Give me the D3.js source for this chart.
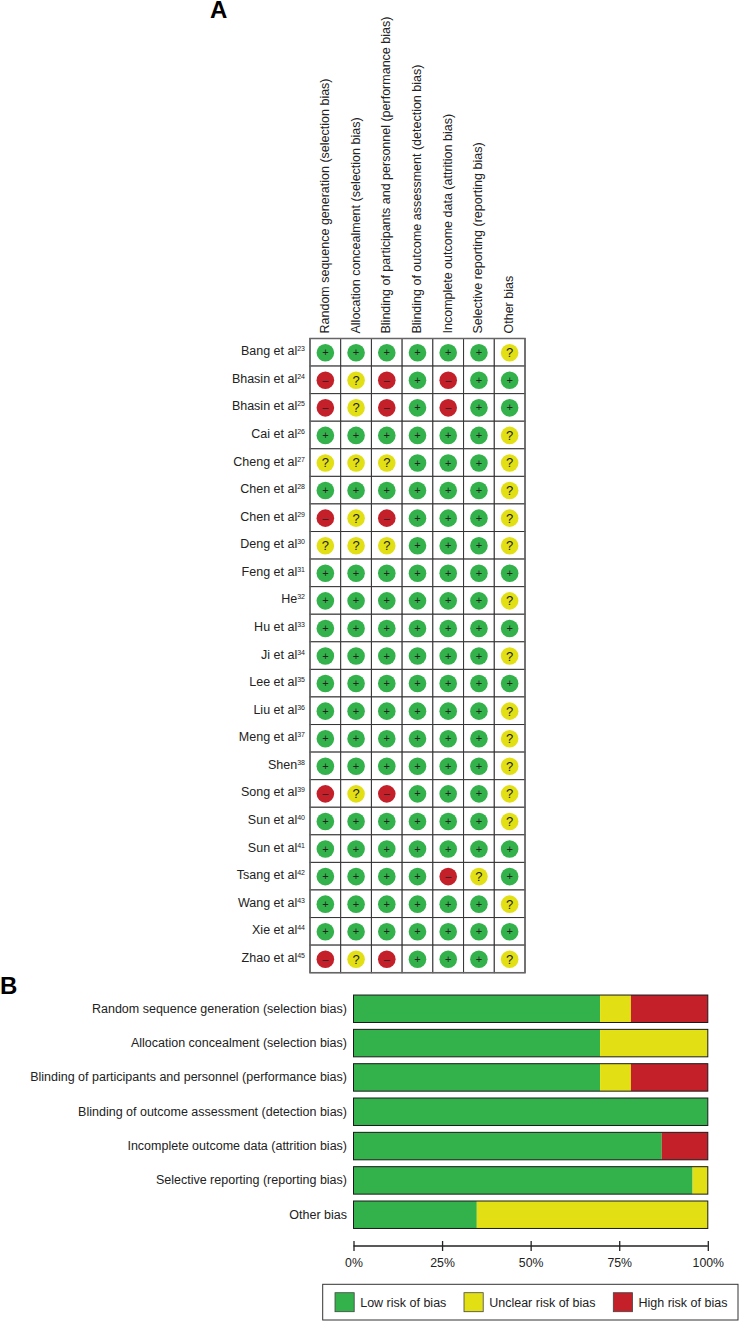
<!DOCTYPE html>
<html>
<head>
<meta charset="utf-8">
<script src="https://cdnjs.cloudflare.com/ajax/libs/d3/7.8.5/d3.min.js"></script>
<style>
  html, body { margin: 0; padding: 0; background: #fff; }
  svg { display: block; }
  text { font-family: 'Liberation Sans', Arial, sans-serif; fill: #222; }
</style>
</head>
<body>
<div id="chart"></div>
<script>
const domains = [
  'Random sequence generation (selection bias)',
  'Allocation concealment (selection bias)',
  'Blinding of participants and personnel (performance bias)',
  'Blinding of outcome assessment (detection bias)',
  'Incomplete outcome data (attrition bias)',
  'Selective reporting (reporting bias)',
  'Other bias',
];
const studies = ['Bang et al', 'Bhasin et al', 'Bhasin et al', 'Cai et al', 'Cheng et al', 'Chen et al',
  'Chen et al', 'Deng et al', 'Feng et al', 'He', 'Hu et al', 'Ji et al', 'Lee et al', 'Liu et al',
  'Meng et al', 'Shen', 'Song et al', 'Sun et al', 'Sun et al', 'Tsang et al', 'Wang et al', 'Xie et al', 'Zhao et al'];
const refs = [23, 24, 25, 26, 27, 28, 29, 30, 31, 32, 33, 34, 35, 36, 37, 38, 39, 40, 41, 42, 43, 44, 45];
// one string per study, one char per domain
const judgements = [
  '++++++?', '-?-+-++', '-?-+-++', '++++++?', '???+++?', '++++++?', '-?-+++?', '???+++?',
  '+++++++', '++++++?', '+++++++', '++++++?', '+++++++', '++++++?', '++++++?', '++++++?',
  '-?-+++?', '++++++?', '+++++++', '++++-?+', '++++++?', '+++++++', '-?-+++?',
];

const lowRisk = [69.6, 69.6, 69.6, 100, 87, 95.7, 34.8];
const unclearRisk = [8.7, 30.4, 8.7, 0, 0, 4.3, 65.2];
const highRisk = [21.7, 0, 21.7, 0, 13, 0, 0];
const percentTicks = [0, 25, 50, 75, 100];
const riskLabels = ['Low risk of bias', 'Unclear risk of bias', 'High risk of bias'];

const green = '#33b14b';
const yellow = '#e2e014';
const red = '#c4202a';
const symbolColor = { '+': green, '?': yellow, '-': red };
const symbolText = { '+': '+', '?': '?', '-': '\u2013' };
const labelSize = 12.5;

const svg = d3.select('#chart').append('svg')
  .attr('width', 739)
  .attr('height', 1321);

// panel letters
svg.append('text').attr('x', 210).attr('y', 18)
  .attr('font-size', 24).attr('font-weight', 'bold').style('fill', '#000').text('A');
svg.append('text').attr('x', 0).attr('y', 994)
  .attr('font-size', 24).attr('font-weight', 'bold').style('fill', '#000').text('B');

// panel A
const x = d3.scaleBand().domain(d3.range(domains.length)).range([310, 525]);
const y = d3.scaleBand().domain(d3.range(studies.length)).range([338.5, 972.7]);

const gridA = svg.append('g');
gridA.selectAll('rect.cell')
  .data(d3.cross(d3.range(studies.length), d3.range(domains.length)))
  .join('rect')
  .attr('class', 'cell')
  .attr('x', (d) => x(d[1]))
  .attr('y', (d) => y(d[0]))
  .attr('width', x.bandwidth())
  .attr('height', y.bandwidth())
  .attr('fill', '#fff')
  .attr('stroke', '#333')
  .attr('stroke-width', 1);
gridA.append('rect')
  .attr('x', 310).attr('y', 338.5)
  .attr('width', x.range()[1] - 310)
  .attr('height', y.range()[1] - 338.5)
  .attr('fill', 'none')
  .attr('stroke', '#666')
  .attr('stroke-width', 1.5);

svg.selectAll('text.domain-head')
  .data(domains)
  .join('text')
  .attr('class', 'domain-head')
  .attr('font-size', labelSize)
  .attr('transform', (d, i) => `translate(${x(i) + x.bandwidth() / 2 + 3.5},333.5) rotate(-90)`)
  .text((d) => d);

const studyLabels = svg.selectAll('text.study')
  .data(studies)
  .join('text')
  .attr('class', 'study')
  .attr('x', 305)
  .attr('y', (d, i) => y(i) + y.bandwidth() / 2 + 3)
  .attr('text-anchor', 'end')
  .attr('font-size', labelSize);
studyLabels.append('tspan').text((d) => d);
studyLabels.append('tspan')
  .attr('font-size', 7)
  .attr('dy', -4)
  .text((d, i) => refs[i]);

const cells = svg.append('g').selectAll('g')
  .data(judgements.flatMap((row, r) => row.split('').map((j, c) => ({ r, c, j }))))
  .join('g')
  .attr('transform', (d) => `translate(${x(d.c) + x.bandwidth() / 2},${y(d.r) + y.bandwidth() / 2 + 0.4})`);
cells.append('circle')
  .attr('r', 8.8)
  .attr('fill', (d) => symbolColor[d.j]);
cells.append('text')
  .attr('text-anchor', 'middle')
  .attr('y', (d) => (d.j === '?' ? 4.5 : 3.6))
  .attr('font-size', (d) => (d.j === '?' ? 13 : 11))
  .text((d) => symbolText[d.j]);

// panel B
const xPct = d3.scaleLinear().domain([0, 100]).range([353.5, 707.8]);
const yBar = d3.scaleBand().domain(d3.range(domains.length)).range([991.6, 1231.9]).paddingInner(0.2).paddingOuter(0.1);

const bars = svg.append('g').selectAll('g')
  .data(domains)
  .join('g')
  .attr('transform', (d, i) => `translate(0,${yBar(i)})`);
[[lowRisk, green], [unclearRisk, yellow], [highRisk, red]].forEach(([vals, color], k) => {
  bars.append('rect')
    .attr('x', (d, i) => {
      let start = 0;
      if (k > 0) start += lowRisk[i];
      if (k > 1) start += unclearRisk[i];
      return xPct(start);
    })
    .attr('width', (d, i) => xPct(vals[i]) - xPct(0))
    .attr('height', yBar.bandwidth())
    .attr('fill', color);
});
bars.append('rect')
  .attr('x', xPct(0))
  .attr('width', xPct(100) - xPct(0))
  .attr('height', yBar.bandwidth())
  .attr('fill', 'none')
  .attr('stroke', '#1a1a1a')
  .attr('stroke-width', 1);
bars.append('text')
  .attr('x', 347)
  .attr('y', yBar.bandwidth() / 2 + 4)
  .attr('text-anchor', 'end')
  .attr('font-size', labelSize)
  .text((d) => d);

const axis = svg.append('g')
  .attr('transform', 'translate(0,1246)')
  .call(d3.axisBottom(xPct)
    .tickValues(percentTicks)
    .tickFormat((d) => `${d}%`)
    .tickSize(5)
    .tickSizeOuter(5)
    .tickPadding(7));
axis.selectAll('.domain').attr('stroke', '#222').attr('stroke-width', 1.3).attr('d', `M${xPct(0)},0H${xPct(100)}`);
axis.selectAll('line').attr('y1', -5).attr('stroke', '#222').attr('stroke-width', 1.3);
axis.selectAll('text')
  .attr('font-size', 12.3)
  .attr('font-family', "'Liberation Sans', Arial, sans-serif");

// legend
svg.append('rect')
  .attr('x', 322.7).attr('y', 1284.3)
  .attr('width', 415.3).attr('height', 35.7)
  .attr('fill', '#fff')
  .attr('stroke', '#333')
  .attr('stroke-width', 1);
const legendX = d3.scaleOrdinal().domain(riskLabels).range([335, 464, 613.3]);
const legendColor = d3.scaleOrdinal().domain(riskLabels).range([green, yellow, red]);
const legend = svg.selectAll('g.legend')
  .data(riskLabels)
  .join('g')
  .attr('class', 'legend')
  .attr('transform', (d) => `translate(${legendX(d)},1292.7)`);
legend.append('rect')
  .attr('width', 19.2).attr('height', 19)
  .attr('fill', (d) => legendColor(d))
  .attr('stroke', '#444')
  .attr('stroke-width', 0.8);
legend.append('text')
  .attr('x', 25.2).attr('y', 14)
  .attr('font-size', labelSize)
  .text((d) => d);
</script>
</body>
</html>
